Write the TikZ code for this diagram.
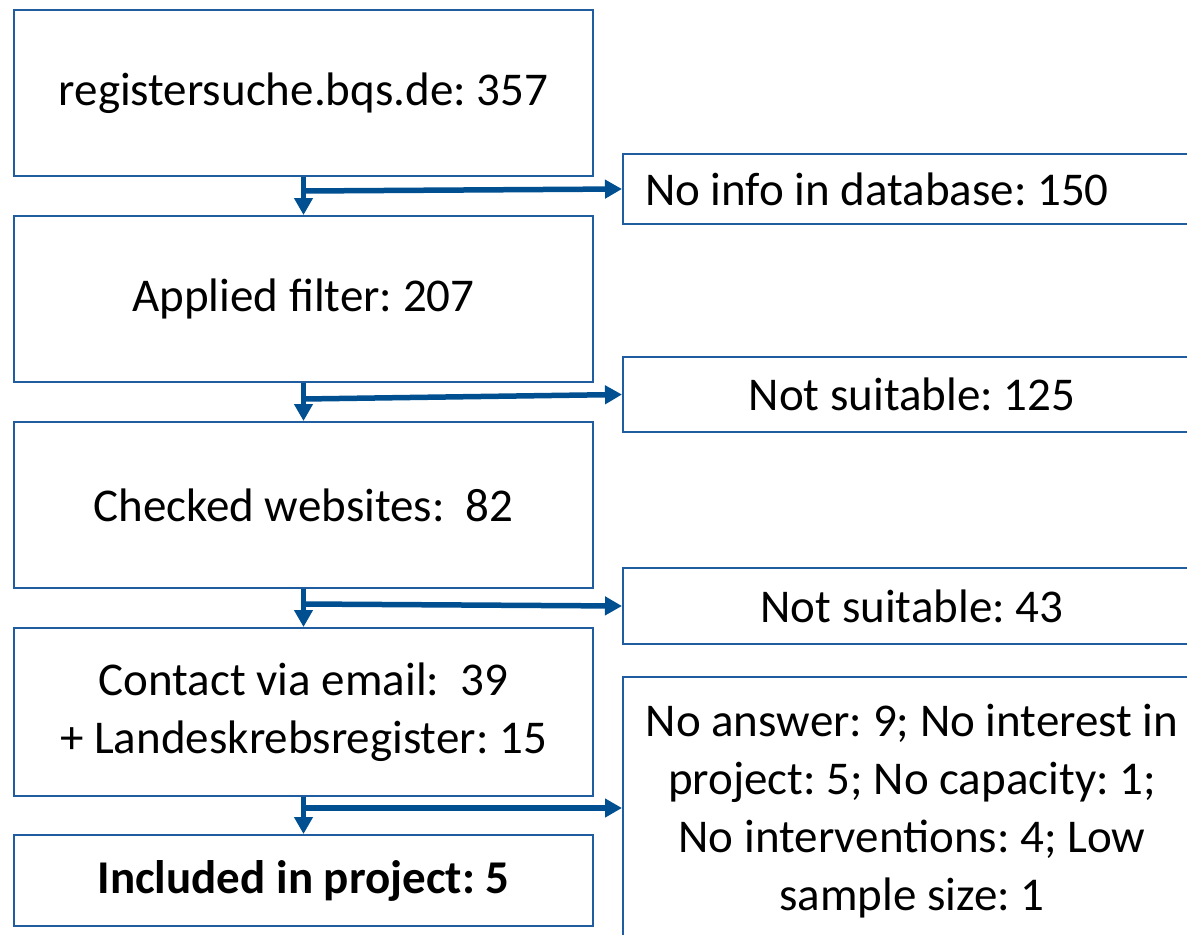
\documentclass[tikz,border=0pt]{standalone}
\usepackage{fontspec}
\setmainfont{Carlito}
\frenchspacing
\usetikzlibrary{arrows.meta,calc}
\definecolor{boxblue}{RGB}{32,92,160}
\definecolor{arrblue}{RGB}{0,80,145}
\begin{document}
\begin{tikzpicture}[x=1pt,y=-1pt,
  box/.style={draw=boxblue, line width=2pt, fill=white, inner sep=0pt,
    minimum width=579pt, align=center, font=\fontsize{47}{58}\selectfont},
  arr/.style={draw=arrblue, line width=5.5pt, -{Triangle[length=17pt,width=18pt]}}]
\useasboundingbox (0,0) rectangle (1187,935);
\clip (0,0) rectangle (1187,935);
% left column
\node[box, minimum height=166pt] (b1) at (303.5,93) {registersuche.bqs.de: 357};
\node[box, minimum height=166pt] (b2) at (303.5,299) {Applied filter: 207};
\node[box, minimum height=166pt] (b3) at (303.5,505) {Checked websites:\ \ 82};
\node[box, minimum height=168pt] (b4) at (303.5,712) {Contact via email:\ \ 39\\+ Landeskrebsregister: 15};
\node[box, minimum height=91pt, font=\fontsize{47}{58}\selectfont\bfseries] (b5) at (303.5,880.5) {Included in project: 5};
% right column
\node[box, minimum width=578pt, minimum height=70pt, inner xsep=22pt] (r1) at (912,189) {\makebox[534pt][l]{No info in database: 150}};
\node[box, minimum width=578pt, minimum height=75pt] (r2) at (912,394.5) {Not suitable: 125};
\node[box, minimum width=578pt, minimum height=76pt] (r3) at (912,606) {Not suitable: 43};
\node[box, minimum width=578pt, minimum height=268pt] (r4) at (912,811) {No answer: 9; No interest in\\project: 5; No capacity: 1;\\No interventions: 4; Low\\sample size: 1};
% connectors
\coordinate (j1) at ($(b1.south)+(0,14)$);
\coordinate (j2) at ($(b2.south)+(0,16)$);
\coordinate (j3) at ($(b3.south)+(0,15)$);
\coordinate (j4) at ($(b4.south)+(0,11)$);
\draw[arr] (b1.south) -- (b2.north);
\draw[arr] (b2.south) -- (b3.north);
\draw[arr] (b3.south) -- (b4.north);
\draw[arr] (b4.south) -- (b5.north);
\draw[arr] (j1) -- (r1.west);
\draw[arr] (j2) -- (r2.west);
\draw[arr] (j3) -- (r3.west);
\draw[arr] (j4) -- (j4 -| r4.west);
\end{tikzpicture}
\end{document}
